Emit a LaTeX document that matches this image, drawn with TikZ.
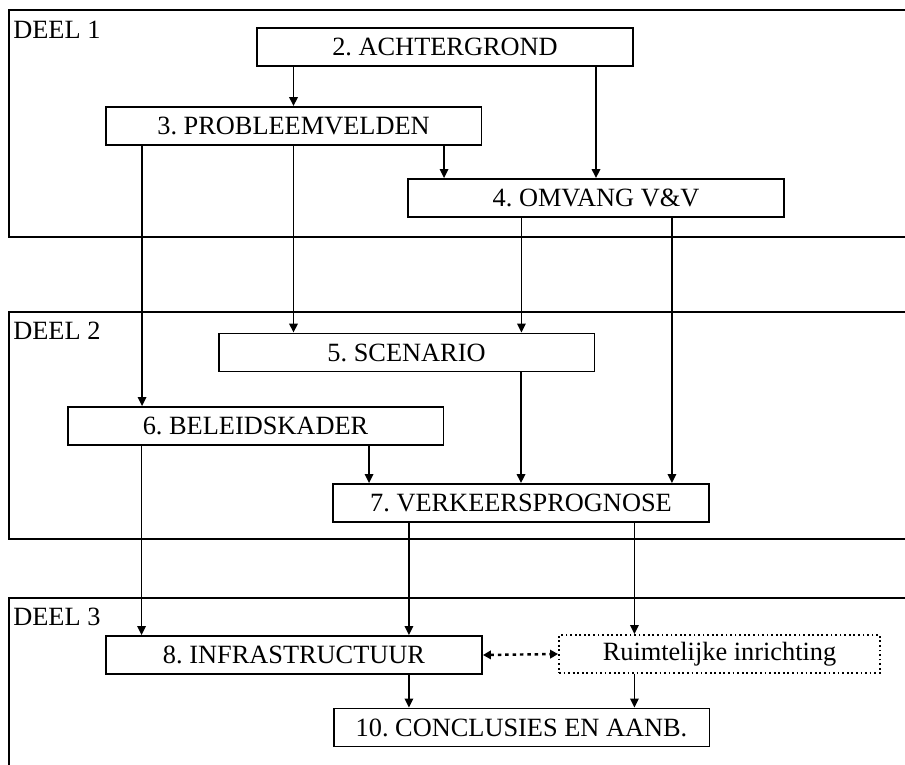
\documentclass[tikz,border=0pt]{standalone}
\usepackage{fontspec}
\setmainfont{Liberation Serif}
\usetikzlibrary{arrows.meta,positioning}
\frenchspacing

\begin{document}
\begin{tikzpicture}[x=0.02cm, y=-0.02cm,
  >={Triangle[length=1.8mm,width=1.7mm]},
  box/.style={draw, line width=1.1pt, minimum width=7.52cm, minimum height=0.76cm, inner sep=0pt, font=\fontsize{15}{17}\selectfont},
  deel/.style={draw, line width=1.1pt},
  deellabel/.style={anchor=base west, inner sep=0pt, font=\fontsize{15}{17}\selectfont},
  arr/.style={->, line width=1pt}]
	\useasboundingbox (0,0) rectangle (905,764);
	\clip (0,0) rectangle (905,764);
	% delen
	\draw[deel] (9,10) rectangle (930,237);
	\draw[deel] (9,312) rectangle (930,539);
	\draw[deel] (9,598) rectangle (930,790);
	\node (deel1) [deellabel] at (13,38) {DEEL 1};
	\node (deel2) [deellabel] at (13,339) {DEEL 2};
	\node (deel3) [deellabel] at (13,625) {DEEL 3};
	
	\node (ach) [box] at (445,47) {2. ACHTERGROND};
	\node (prob) [box] at (293.5,126) {3. PROBLEEMVELDEN};
	\node (omv) [box] at (596,198) {4. OMVANG V\&V};
	\node (scen) [box] at (406.5,352.5) {5. SCENARIO};
	\node (bel) [box] at (255.5,426) {6. BELEIDSKADER};
	\node (verk) [box] at (521,503) {7. VERKEERSPROGNOSE};
	\node (infra) [box] at (294,655) {8. INFRASTRUCTUUR};
	\node (ruim) [box, dash pattern=on 1pt off 1.6pt, minimum width=6.42cm] at (719.5,654) {Ruimtelijke inrichting};
	\node (concl) [box] at (521.5,727.5) {10. CONCLUSIES EN AANB.};
	
	\draw[arr] (ach.south -| prob.north) -- (prob.north);
	\draw[arr] (ach.south -| omv.north) -- (omv.north);
	\draw[arr] ([xshift=0.74cm]omv.north west |- prob.south) -- ([xshift=0.74cm]omv.north west);
	\draw[arr] ([xshift=0.75cm]prob.south west) -- ([xshift=0.75cm]prob.south west |- bel.north);
	\draw[arr] (prob.south) -- (prob.south |- scen.north);
	\draw[arr] ([xshift=-1.48cm]scen.north east |- omv.south) -- ([xshift=-1.48cm]scen.north east);
	\draw[arr] ([xshift=-0.76cm]verk.north east |- omv.south) -- ([xshift=-0.76cm]verk.north east);
	\draw[arr] ([xshift=0.74cm]verk.north west |- bel.south) -- ([xshift=0.74cm]verk.north west);
	\draw[arr] (verk.north |- scen.south) -- (verk.north);
	\draw[arr] ([xshift=0.73cm]infra.north west |- bel.south) -- ([xshift=0.73cm]infra.north west);
	\draw[arr] ([xshift=-1.48cm]infra.north east |- verk.south) -- ([xshift=-1.48cm]infra.north east);
	\draw[arr] ([xshift=-1.51cm]verk.south east) -- ([xshift=-1.51cm]verk.south east |- ruim.north);
	\draw[arr] ([xshift=-1.48cm]infra.south east) -- ([xshift=-1.48cm]infra.south east |- concl.north);
	\draw[arr] ([xshift=-1.52cm]concl.north east |- ruim.south) -- ([xshift=-1.52cm]concl.north east);
	\draw[arr, <->, dash pattern=on 2pt off 2.2pt, line width=1.4pt, >={Triangle[length=1.6mm,width=1.7mm]}] (infra.east) -- (ruim.west);
\end{tikzpicture}
\end{document}
